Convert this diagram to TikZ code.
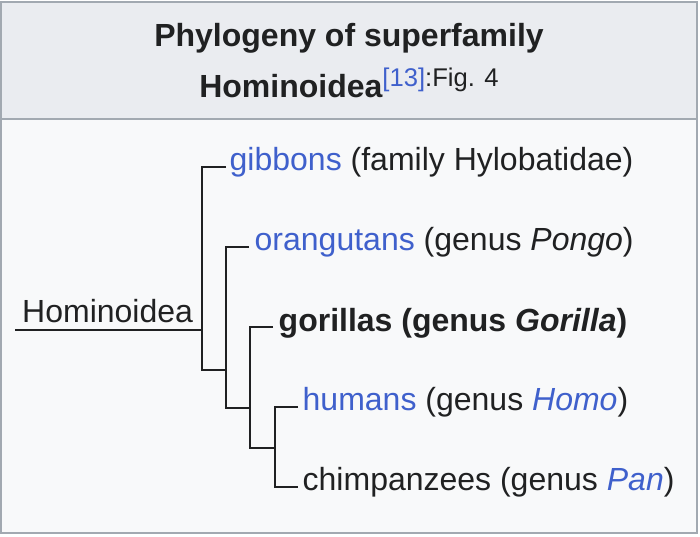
\documentclass[tikz,border=0pt]{standalone}
\usepackage{fontspec}
\setmainfont{Liberation Sans}
\definecolor{ink}{HTML}{202122}
\definecolor{link}{HTML}{3F60CC}
\definecolor{framegray}{HTML}{A2A9B1}
\definecolor{headbg}{HTML}{EAECF0}
\definecolor{bodybg}{HTML}{F8F9FA}
\begin{document}
\begin{tikzpicture}[x=1pt,y=-1pt,
  lbl/.style={anchor=base west,inner sep=0pt,text=ink,font=\fontsize{32}{38}\selectfont},
  ttl/.style={anchor=base,inner sep=0pt,text=ink,font=\fontsize{32}{38}\selectfont\bfseries},
  tree/.style={draw=ink,line width=2pt,line join=miter}]
\useasboundingbox (0,0) rectangle (700,536);
% panel
\fill[bodybg] (1,2) rectangle (697,533);
\fill[headbg] (1,2) rectangle (697,119);
\draw[framegray,line width=2pt] (1,119) -- (697,119);
\draw[framegray,line width=2pt] (1,2) rectangle (697,533);
% title
\node[ttl] (t1) at (349,46) {Phylogeny of superfamily};
\node[ttl] (t2) at (349,97) {Hominoidea\raisebox{11pt}{\fontsize{25.6}{30}\selectfont\mdseries\textcolor{link}{[13]}:Fig. 4}};
% labels
\node[lbl] (root) at (22,322) {Hominoidea};
\node[lbl] (gib) at (229.5,170) {\textcolor{link}{gibbons} (family Hylobatidae)};
\node[lbl] (ora) at (254.5,250) {\textcolor{link}{orangutans} (genus \textit{Pongo})};
\node[lbl] (gor) at (278.5,331) {\bfseries gorillas (genus \textit{Gorilla})};
\node[lbl] (hum) at (302.5,410) {\textcolor{link}{humans} (genus \textcolor{link}{\textit{Homo}})};
\node[lbl] (chi) at (302.5,490) {chimpanzees (genus \textcolor{link}{\textit{Pan}})};
% tree coordinates
\coordinate (rs) at (15,330);
\coordinate (r1) at (202,330);
\coordinate (ge) at (226,167);
\coordinate (b1) at (202,370);
\coordinate (b1r) at (226,370);
\coordinate (oe) at (249,247);
\coordinate (b2) at (226,408);
\coordinate (b2r) at (250,408);
\coordinate (gre) at (273,327);
\coordinate (b3) at (250,448);
\coordinate (b3r) at (275,448);
\coordinate (he) at (298,407);
\coordinate (c4) at (275,487);
\coordinate (ce) at (298,487);
% tree
\draw[tree] (rs) -- (r1);
\draw[tree] (ge) -| (b1) -- (b1r);
\draw[tree] (oe) -| (b2) -- (b2r);
\draw[tree] (gre) -| (b3) -- (b3r);
\draw[tree] (he) -| (c4) -- (ce);
\end{tikzpicture}
\end{document}
